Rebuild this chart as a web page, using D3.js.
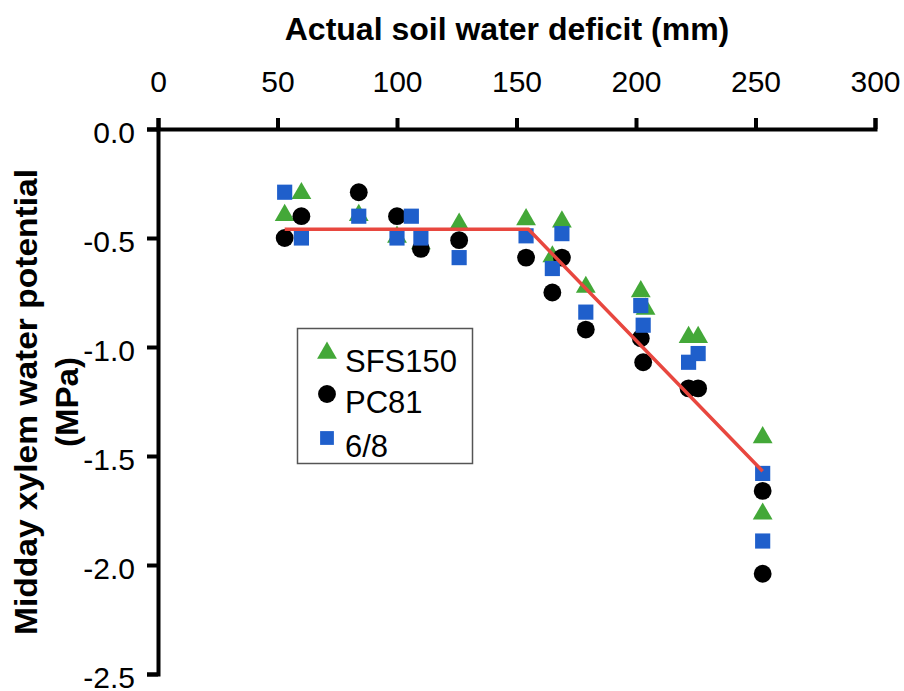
<!DOCTYPE html>
<html>
<head>
<meta charset="utf-8">
<script src="https://cdn.jsdelivr.net/npm/d3@7"></script>
<style>
  html, body { margin: 0; padding: 0; background: #ffffff; }
  svg { display: block; font-family: "Liberation Sans", Arial, sans-serif; }
</style>
</head>
<body>
<svg id="chart" width="904" height="691"></svg>
<script>
// Actual soil water deficit (mm) vs midday xylem water potential (MPa)
const seriesNames = ["SFS150", "PC81", "6/8"];
const seriesColors = ["#43a838", "#000000", "#1f5fcb"];

const sfs150Deficit = [53, 60, 84, 100, 110, 126, 154, 165, 169, 179, 202, 204, 222, 226, 253, 253];
const sfs150Psi     = [-0.40, -0.30, -0.40, -0.50, -0.53, -0.44, -0.42, -0.59, -0.43, -0.73, -0.75, -0.83, -0.96, -0.96, -1.42, -1.77];

const pc81Deficit = [53, 60, 84, 100, 110, 126, 154, 165, 169, 179, 202, 203, 222, 226, 253, 253];
const pc81Psi     = [-0.50, -0.40, -0.29, -0.40, -0.55, -0.51, -0.59, -0.75, -0.59, -0.92, -0.96, -1.07, -1.19, -1.19, -1.66, -2.04];

const s68Deficit = [53, 60, 84, 100, 106, 110, 126, 154, 165, 169, 179, 202, 203, 222, 226, 253, 253];
const s68Psi     = [-0.29, -0.50, -0.40, -0.50, -0.40, -0.50, -0.59, -0.49, -0.64, -0.48, -0.84, -0.81, -0.90, -1.07, -1.03, -1.58, -1.89];

// Broken-stick fit: plateau then linear decline
const fitDeficit = [53, 155, 253];
const fitPsi     = [-0.46, -0.46, -1.57];

const xTicks = [0, 50, 100, 150, 200, 250, 300];
const yTicks = [0, -0.5, -1.0, -1.5, -2.0, -2.5];

const svg = d3.select("#chart");

const x = d3.scaleLinear().domain([0, 300]).range([158, 875]);
const y = d3.scaleLinear().domain([0, -2.5]).range([129, 674]);

// Top x axis
const xAxis = d3.axisTop(x).tickValues(xTicks).tickSizeOuter(0).tickSize(11).tickPadding(26)
  .tickFormat(d3.format("d"));
const gx = svg.append("g").attr("transform", `translate(0,${y(0)})`).call(xAxis);
gx.select(".domain").attr("stroke", "#000").attr("stroke-width", 4);
gx.selectAll(".tick line").attr("stroke", "#000").attr("stroke-width", 4);
gx.selectAll(".tick text").attr("font-size", 30).attr("fill", "#000")
  .attr("font-family", "'Liberation Sans', Arial, sans-serif");

// Left y axis (plain hyphen for negatives)
const fmt1 = d3.format(".1f");
const yAxis = d3.axisLeft(y).tickValues(yTicks).tickSizeOuter(0).tickSize(11).tickPadding(12)
  .tickFormat(d => fmt1(d).replace("\u2212", "-"));
const gy = svg.append("g").attr("transform", `translate(${x(0)},0)`).call(yAxis);
gy.select(".domain").attr("stroke", "#000").attr("stroke-width", 4);
gy.selectAll(".tick line").attr("stroke", "#000").attr("stroke-width", 4);
gy.selectAll(".tick text").attr("font-size", 30).attr("fill", "#000").attr("dy", "0.45em")
  .attr("font-family", "'Liberation Sans', Arial, sans-serif");

// Axis titles
svg.append("text")
  .attr("x", 507).attr("y", 40)
  .attr("text-anchor", "middle")
  .attr("font-size", 32).attr("font-weight", "bold")
  .text("Actual soil water deficit (mm)");

const yTitle = svg.append("text")
  .attr("transform", "translate(37,402) rotate(-90)")
  .attr("text-anchor", "middle")
  .attr("font-size", 32).attr("font-weight", "bold");
yTitle.append("tspan").attr("x", 0).attr("y", 0)
  .attr("textLength", 466).attr("lengthAdjust", "spacingAndGlyphs")
  .text("Midday xylem water potential");
yTitle.append("tspan").attr("x", 0).attr("y", 41)
  .attr("textLength", 90).attr("lengthAdjust", "spacingAndGlyphs")
  .text("(MPa)");

// Marker symbols
const triangle = d3.symbol().type(d3.symbolTriangle).size(170);
const circle = d3.symbol().type(d3.symbolCircle).size(250);
const square = d3.symbol().type(d3.symbolSquare).size(230);

function pts(xs, ys) { return xs.map((d, i) => ({ x: d, y: ys[i] })); }

svg.append("g").selectAll("path")
  .data(pts(sfs150Deficit, sfs150Psi)).join("path")
  .attr("d", triangle)
  .attr("transform", d => `translate(${x(d.x)},${y(d.y) - 1})`)
  .attr("fill", seriesColors[0]);

svg.append("g").selectAll("path")
  .data(pts(pc81Deficit, pc81Psi)).join("path")
  .attr("d", circle)
  .attr("transform", d => `translate(${x(d.x)},${y(d.y)})`)
  .attr("fill", seriesColors[1]);

svg.append("g").selectAll("path")
  .data(pts(s68Deficit, s68Psi)).join("path")
  .attr("d", square)
  .attr("transform", d => `translate(${x(d.x)},${y(d.y)})`)
  .attr("fill", seriesColors[2]);

// Fitted line
svg.append("path")
  .datum(pts(fitDeficit, fitPsi))
  .attr("d", d3.line().x(d => x(d.x)).y(d => y(d.y)))
  .attr("fill", "none")
  .attr("stroke", "#e8473f")
  .attr("stroke-width", 3.5);

// Legend
const legend = svg.append("g");
legend.append("rect")
  .attr("x", 297.5).attr("y", 328.5).attr("width", 175).attr("height", 135)
  .attr("fill", "#fff").attr("stroke", "#555").attr("stroke-width", 1.5);

const legendSymbols = [
  d3.symbol().type(d3.symbolTriangle).size(170),
  d3.symbol().type(d3.symbolCircle).size(250),
  d3.symbol().type(d3.symbolSquare).size(190)
];
const legendRowsY = [361, 402, 446];
seriesNames.forEach((name, i) => {
  legend.append("path")
    .attr("d", legendSymbols[i])
    .attr("transform", `translate(327,${legendRowsY[i] - 8})`)
    .attr("fill", seriesColors[i]);
  legend.append("text")
    .attr("x", 345).attr("y", legendRowsY[i] + 11)
    .attr("font-size", 31)
    .attr("fill", "#000")
    .text(name);
});
</script>
</body>
</html>
